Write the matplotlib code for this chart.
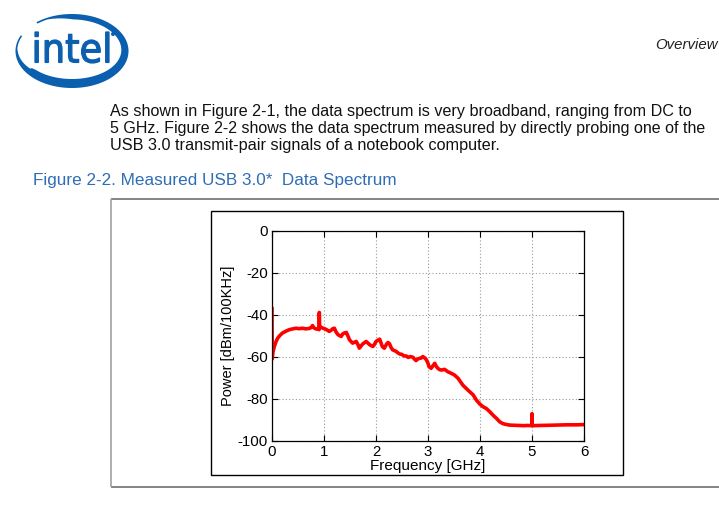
import numpy as np
import matplotlib
matplotlib.use("Agg")
import matplotlib.pyplot as plt
from matplotlib.textpath import TextPath
from matplotlib.font_manager import FontProperties
from matplotlib.patches import PathPatch, Polygon, Rectangle, Circle
from matplotlib.transforms import Affine2D

# ---------------- data ----------------
freq_ghz = [0.000, 0.004, 0.008, 0.02, 0.045, 0.08, 0.11, 0.15, 0.2, 0.26, 0.33, 0.4, 0.46, 0.52,
            0.59, 0.65, 0.72, 0.76, 0.78, 0.8, 0.85, 0.9, 0.905, 0.91, 0.915, 0.94, 0.98, 1.01,
            1.05, 1.10, 1.14, 1.17, 1.2, 1.23, 1.27, 1.33, 1.36, 1.39, 1.43, 1.46, 1.49, 1.55,
            1.6, 1.62, 1.65, 1.68, 1.72, 1.75, 1.81, 1.85, 1.88, 1.94, 1.97, 2.0, 2.04, 2.07,
            2.1, 2.12, 2.16, 2.2, 2.23, 2.26, 2.29, 2.32, 2.36, 2.39, 2.42, 2.45, 2.5, 2.54,
            2.58, 2.62, 2.66, 2.71, 2.74, 2.77, 2.8, 2.84, 2.87, 2.9, 2.94, 2.97, 3.0, 3.02,
            3.06, 3.1, 3.13, 3.16, 3.19, 3.22, 3.26, 3.32, 3.38, 3.45, 3.51, 3.58, 3.67, 3.77,
            3.87, 3.93, 4.0, 4.06, 4.12, 4.19, 4.25, 4.32, 4.38, 4.44, 4.48, 4.56, 4.64, 4.75,
            4.83, 4.92, 4.99, 4.995, 5.0, 5.005, 5.02, 5.15, 5.34, 5.5, 5.66, 5.85, 6.0]
power_dbm = [-37, -61, -60, -57.5, -55, -52.5, -51, -49.8, -48.6, -47.8, -47, -46.6, -46.3, -46.5,
             -46.3, -46.6, -46.4, -45.8, -45, -46, -46.7, -46.5, -47, -38.8, -45.5, -45.8, -46.3, -46.5,
             -47, -47.8, -47.2, -46.5, -46.3, -48, -49.4, -50.2, -49, -48.6, -48.3, -50, -51.8, -53.4,
             -52.8, -52.6, -54, -55.8, -54.5, -53.7, -52.6, -53.5, -54.2, -55, -54, -52.6, -52, -51.5,
             -53.5, -55, -55.8, -54, -53.1, -53.7, -55.5, -56.6, -57, -57.4, -58, -58.5, -58.8, -59.5,
             -59.5, -60.2, -59.8, -60.1, -61, -61.7, -61, -60.6, -60.5, -59.8, -60.5, -61.4, -63, -64.6,
             -65.4, -64, -63, -64.5, -65.4, -66, -66.2, -65.9, -67, -67.8, -68.6, -70.2, -73.4, -75.8,
             -78.1, -80.5, -82.5, -83.7, -84.5, -86.1, -87.7, -89.3, -90.9, -91.7, -92, -92.4, -92.5, -92.6,
             -92.7, -92.6, -92.7, -92.7, -87, -92.6, -92.7, -92.6, -92.5, -92.4, -92.3, -92.3, -92.2]

x_ticks = [0, 1, 2, 3, 4, 5, 6]
y_ticks = [0, -20, -40, -60, -80, -100]

body_lines = ["As shown in Figure 2-1, the data spectrum is very broadband, ranging from DC to",
              "5 GHz. Figure 2-2 shows the data spectrum measured by directly probing one of the",
              "USB 3.0 transmit-pair signals of a notebook computer."]
caption = "Figure 2-2. Measured USB 3.0*  Data Spectrum"
header = "Overview"

W, H, DPI = 719, 520, 100
fig = plt.figure(figsize=(W / DPI, H / DPI), dpi=DPI)
fig.patch.set_facecolor("white")

# page layer in pixel coordinates
bg = fig.add_axes([0, 0, 1, 1])
bg.set_xlim(0, W)
bg.set_ylim(H, 0)
bg.axis("off")
renderer = fig.canvas.get_renderer()

def fit_text(x, y, s, target_w, size0=10, **kw):
    t = bg.text(x, y, s, fontsize=size0, **kw)
    w = t.get_window_extent(renderer).width
    t.set_fontsize(size0 * target_w / w)
    return t

# ---- intel logo ----
blue = "#0a5fae"
cx, cy, a, b = 72.0, 51.0, 56.5, 37.0
t = np.radians(np.linspace(129, -205, 400))
frac = (np.radians(129) - t) / (np.radians(129) - np.radians(-205))
base = 7.2 - 1.8 * np.sin(t)
wid = base * np.clip(np.minimum(frac / 0.12, (1 - frac) / 0.2), 0.3, 1.0)
wid = np.where(frac > 0.82, wid * 0.8, wid)
outer = np.column_stack([cx + a * np.cos(t), cy - b * np.sin(t)])
inner = np.column_stack([cx + (a - wid) * np.cos(t), cy - (b - wid) * np.sin(t)])
bg.add_patch(Polygon(np.vstack([outer, inner[::-1]]), closed=True, color=blue, lw=0))

tp = TextPath((0, 0), "intel", prop=FontProperties(family="DejaVu Sans", weight="normal"), size=10)
ext = tp.get_extents()
x0, x1, y0, y1 = 35, 109, 32, 63
sx = (x1 - x0) / ext.width
sy = (y1 - y0) / ext.height
tr = Affine2D().translate(-ext.x0, -ext.y0).scale(sx, -sy).translate(x0, y1)
bg.add_patch(PathPatch(tr.transform_path(tp), fc=blue, ec=blue, lw=0.9))
bg.add_patch(Circle((113, 34), 2.0, color=blue, lw=0))

# ---- header / text ----
fit_text(718, 49, header, 63, size0=8, ha="right", va="baseline", style="italic",
         family="Liberation Sans", color="#222222")
for line, yb, x_end in zip(body_lines, [116, 133, 150], [690, 706, 496]):
    fit_text(110, yb, line, x_end - 110, size0=11, ha="left", va="baseline",
             family="Liberation Sans", color="#111111")
fit_text(33, 185, caption, 362, size0=11, ha="left", va="baseline",
         family="Liberation Sans", color="#2f6db5")

# ---- frames ----
bg.plot([111, 719], [199, 199], color="#7a7a7a", lw=1.3, solid_capstyle="butt")
bg.plot([111, 719], [487, 487], color="#7a7a7a", lw=1.3, solid_capstyle="butt")
bg.plot([111, 111], [199, 487], color="#a8a8a8", lw=1.3, solid_capstyle="butt")
bg.add_patch(Rectangle((211, 211), 412, 264, fill=False, ec="black", lw=1.0))

# ---- chart ----
L, R, T, B = 272, 584, 231, 441
ax = fig.add_axes([L / W, (H - B) / H, (R - L) / W, (B - T) / H])
ax.plot(freq_ghz, power_dbm, color="#ff0000", lw=2.6, solid_joinstyle="round")
ax.set_xlim(0, 6)
ax.set_ylim(-100, 0)
ax.set_xticks(x_ticks)
ax.set_yticks(y_ticks)
ax.set_xticklabels([str(v) for v in x_ticks])
ax.set_yticklabels([str(v) for v in y_ticks])
ax.grid(True, color="#9a9a9a", lw=0.8, linestyle=(0, (1, 2)))
ax.tick_params(direction="in", top=True, right=True, length=4, width=0.8, pad=3,
               labelsize=10.8)
for lab in ax.get_xticklabels() + ax.get_yticklabels():
    lab.set_family("Liberation Sans")
for s in ax.spines.values():
    s.set_linewidth(0.9)
ax.set_xlabel("Frequency [GHz]", fontsize=11, family="Liberation Sans", labelpad=0)
ax.set_ylabel("Power [dBm/100KHz]", fontsize=10.5, family="Liberation Sans", labelpad=2)

fig.savefig("out.png", dpi=DPI)
